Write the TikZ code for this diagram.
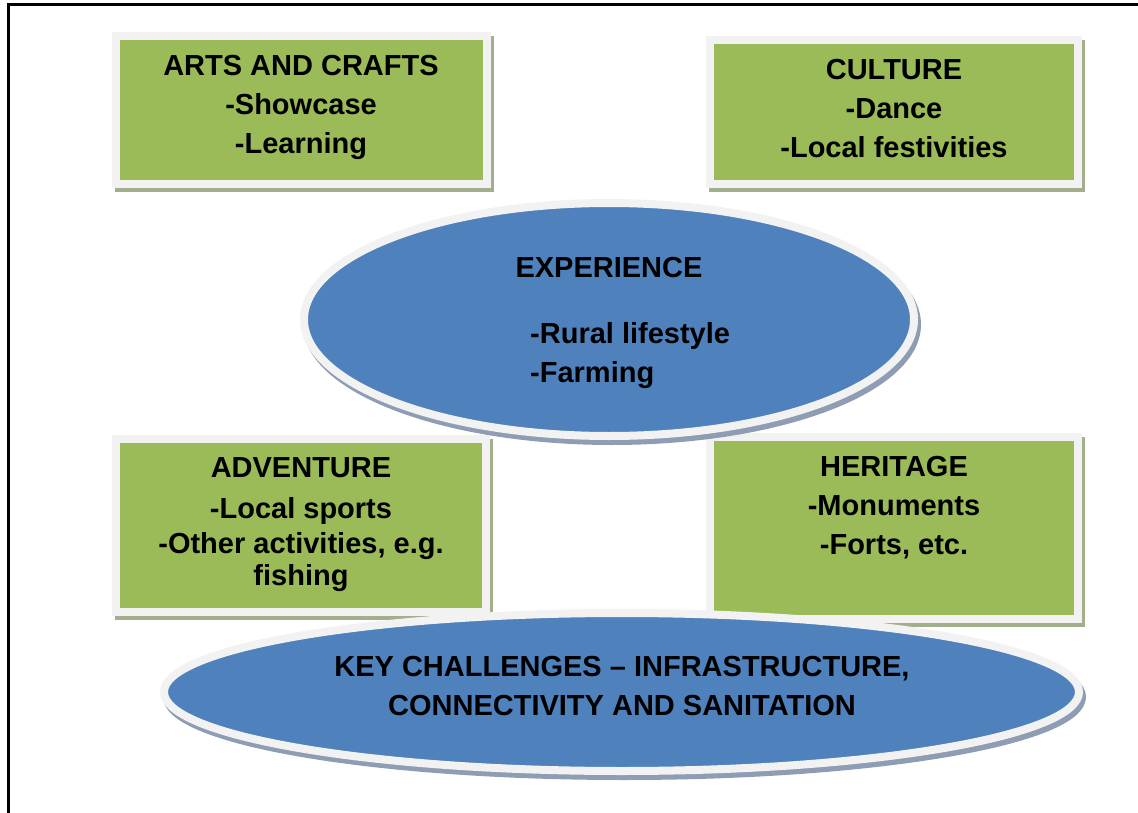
\documentclass[tikz,border=0pt]{standalone}
\usepackage{fontspec}
\setmainfont{Liberation Sans}
\usetikzlibrary{shapes.geometric}
\definecolor{leaf}{HTML}{9BBB59}
\definecolor{sky}{HTML}{4F81BD}
\definecolor{rimgray}{HTML}{F2F2F2}
\definecolor{leafshade}{HTML}{A3AE8C}
\definecolor{skyshade}{HTML}{8E9DB3}
\begin{document}
\begin{tikzpicture}[x=1pt,y=-1pt,
  every node/.style={font=\fontsize{29}{39}\selectfont\bfseries, inner sep=0pt},
  topic/.style={rectangle, draw=rimgray, line width=8pt, fill=leaf,
    preaction={draw=leafshade, fill=leafshade, transform canvas={shift={(3pt,-4pt)}}}},
  theme/.style={ellipse, draw=rimgray, line width=8pt, fill=sky,
    preaction={draw=skyshade, fill=skyshade, transform canvas={shift={(3pt,-5pt)}}}},
  words/.style={align=center, anchor=north}]
\useasboundingbox (0,0) rectangle (1138,813);
\draw[line width=3pt] (8,813) -- (8,5) -- (1138,5);

% the four themes
\node[topic, minimum width=371pt, minimum height=148pt] (arts) at (301.5,110) {};
\node[topic, minimum width=368pt, minimum height=144pt] (culture) at (894,112) {};
\node[topic, minimum width=370pt, minimum height=173pt] (adventure) at (301,525.5) {};
\node[topic, minimum width=368pt, minimum height=182pt] (heritage) at (894,528) {};

% the two ovals
\node[theme, minimum width=610pt, minimum height=233pt] (experience) at (609,319.5) {};
\node[theme, minimum width=915pt, minimum height=158pt] (challenges) at (621.5,692) {};

\node[words] (artstext) at (301,55.5) {ARTS AND CRAFTS\\-Showcase\\-Learning};
\node[words] (culturetext) at (894,59.5) {CULTURE\\-Dance\\-Local festivities};
\node[words] (adventuretext) at (301,457.5) {ADVENTURE\\[2pt]-Local sports\\[-4pt]-Other activities, e.g.\\[-7pt]fishing};
\node[words] (heritagetext) at (894,456.5) {HERITAGE\\-Monuments\\-Forts, etc.};
\node[words] (exptitle) at (609,257.5) {EXPERIENCE};
\node[anchor=north west, align=left] (explist) at (530,322.5) {-Rural lifestyle\\-Farming};
\node[words] (challengetext) at (622,656.5) {KEY CHALLENGES – INFRASTRUCTURE,\\CONNECTIVITY AND SANITATION};
\end{tikzpicture}
\end{document}
